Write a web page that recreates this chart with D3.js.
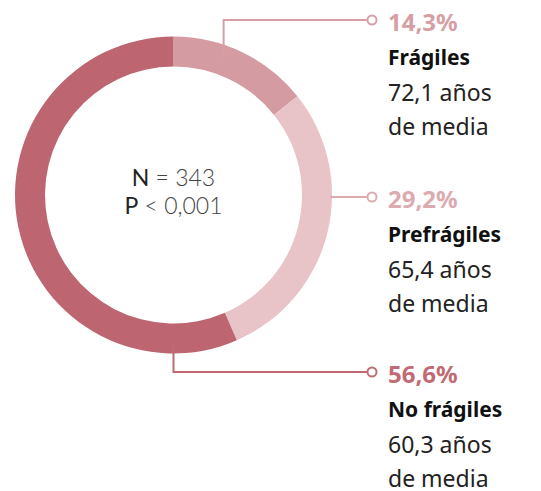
<!DOCTYPE html>
<html>
<head>
<meta charset="utf-8">
<script src="https://cdn.jsdelivr.net/npm/d3@7"></script>
<style>
  html, body { margin: 0; padding: 0; background: #fff; }
  svg { display: block; }
</style>
</head>
<body>
<div id="root"></div>
<script>
'use strict';

// data
var categories = ['Frágiles', 'Prefrágiles', 'No frágiles'];
var shares = [14.3, 29.2, 56.6];
var meanAges = [72.1, 65.4, 60.3];
var sampleSize = 343;
var pValue = '< 0,001';

// styles
var ringColors = ['#d49ca2', '#e8c4c8', '#bd6570'];
var labelColors = ['#d69fa5', '#dcabb0', '#c06a73'];

var width = 541, height = 491;
var cx = 173.5, cy = 195;
var outerR = 158.5, innerR = 128.5;

var svg = d3.select('#root').append('svg')
  .attr('width', width)
  .attr('height', height);

var pie = d3.pie().sort(null).value(function(d) { return d; });
var arcs = pie(shares);
var arc = d3.arc().innerRadius(innerR).outerRadius(outerR);

var g = svg.append('g').attr('transform', 'translate(' + cx + ',' + cy + ')');

g.selectAll('path.slice')
  .data(arcs)
  .enter().append('path')
  .attr('class', 'slice')
  .attr('d', arc)
  .attr('fill', function(d, i) { return ringColors[i]; });

// center text
var center = g.append('text')
  .attr('text-anchor', 'middle')
  .style('font-family', 'Lato, sans-serif')
  .style('font-size', '23px')
  .style('fill', '#222');
var l1 = center.append('tspan').attr('x', 0).attr('y', -9);
l1.append('tspan').style('font-weight', 400).text('N');
l1.append('tspan').style('font-weight', 300).style('fill', '#444').text(' = ' + sampleSize);
var l2 = center.append('tspan').attr('x', 0).attr('y', 19);
l2.append('tspan').style('font-weight', 400).text('P');
l2.append('tspan').style('font-weight', 300).style('fill', '#444').text(' ' + pValue);

// leader lines + labels
var anchorDeg = [20, 90, 180];   // where each leader leaves the ring
var labelY = [20, 197, 372];     // vertical position of each label row
var dotX = 367.5, textX = 388;
var fmt = function(v) { return d3.format('.1f')(v).replace('.', ','); };

categories.forEach(function(name, i) {
  var a = anchorDeg[i] * Math.PI / 180;
  var ax = cx + Math.sin(a) * (outerR - 12);
  var ay = cy - Math.cos(a) * (outerR - 12);
  var y = labelY[i];
  var pts;
  if (i === 1) {
    pts = [[cx + outerR - 2, y], [dotX, y]];
  } else {
    pts = [[ax, ay], [ax, y], [dotX, y]];
  }
  svg.append('path')
    .attr('d', d3.line()(pts))
    .attr('fill', 'none')
    .attr('stroke', labelColors[i])
    .attr('stroke-width', 2);
  svg.append('circle')
    .attr('cx', dotX + 4.5).attr('cy', y).attr('r', 4.5)
    .attr('fill', '#fff')
    .attr('stroke', labelColors[i])
    .attr('stroke-width', 2);

  var t = svg.append('g').style('font-family', '"Noto Sans", sans-serif');
  t.append('text')
    .attr('x', textX).attr('y', y + 11)
    .style('font-size', '24px').style('font-weight', 700)
    .style('fill', labelColors[i])
    .text(fmt(shares[i]) + '%');
  t.append('text')
    .attr('x', textX).attr('y', y + 45)
    .style('font-size', '21px').style('font-weight', 700)
    .style('fill', '#111')
    .text(name);
  t.append('text')
    .attr('x', textX).attr('y', y + 81)
    .style('font-size', '23px').style('font-weight', 400)
    .style('fill', '#222')
    .text(fmt(meanAges[i]) + ' años');
  t.append('text')
    .attr('x', textX).attr('y', y + 115)
    .style('font-size', '23px').style('font-weight', 400)
    .style('fill', '#222')
    .text('de media');
});
</script>
</body>
</html>
